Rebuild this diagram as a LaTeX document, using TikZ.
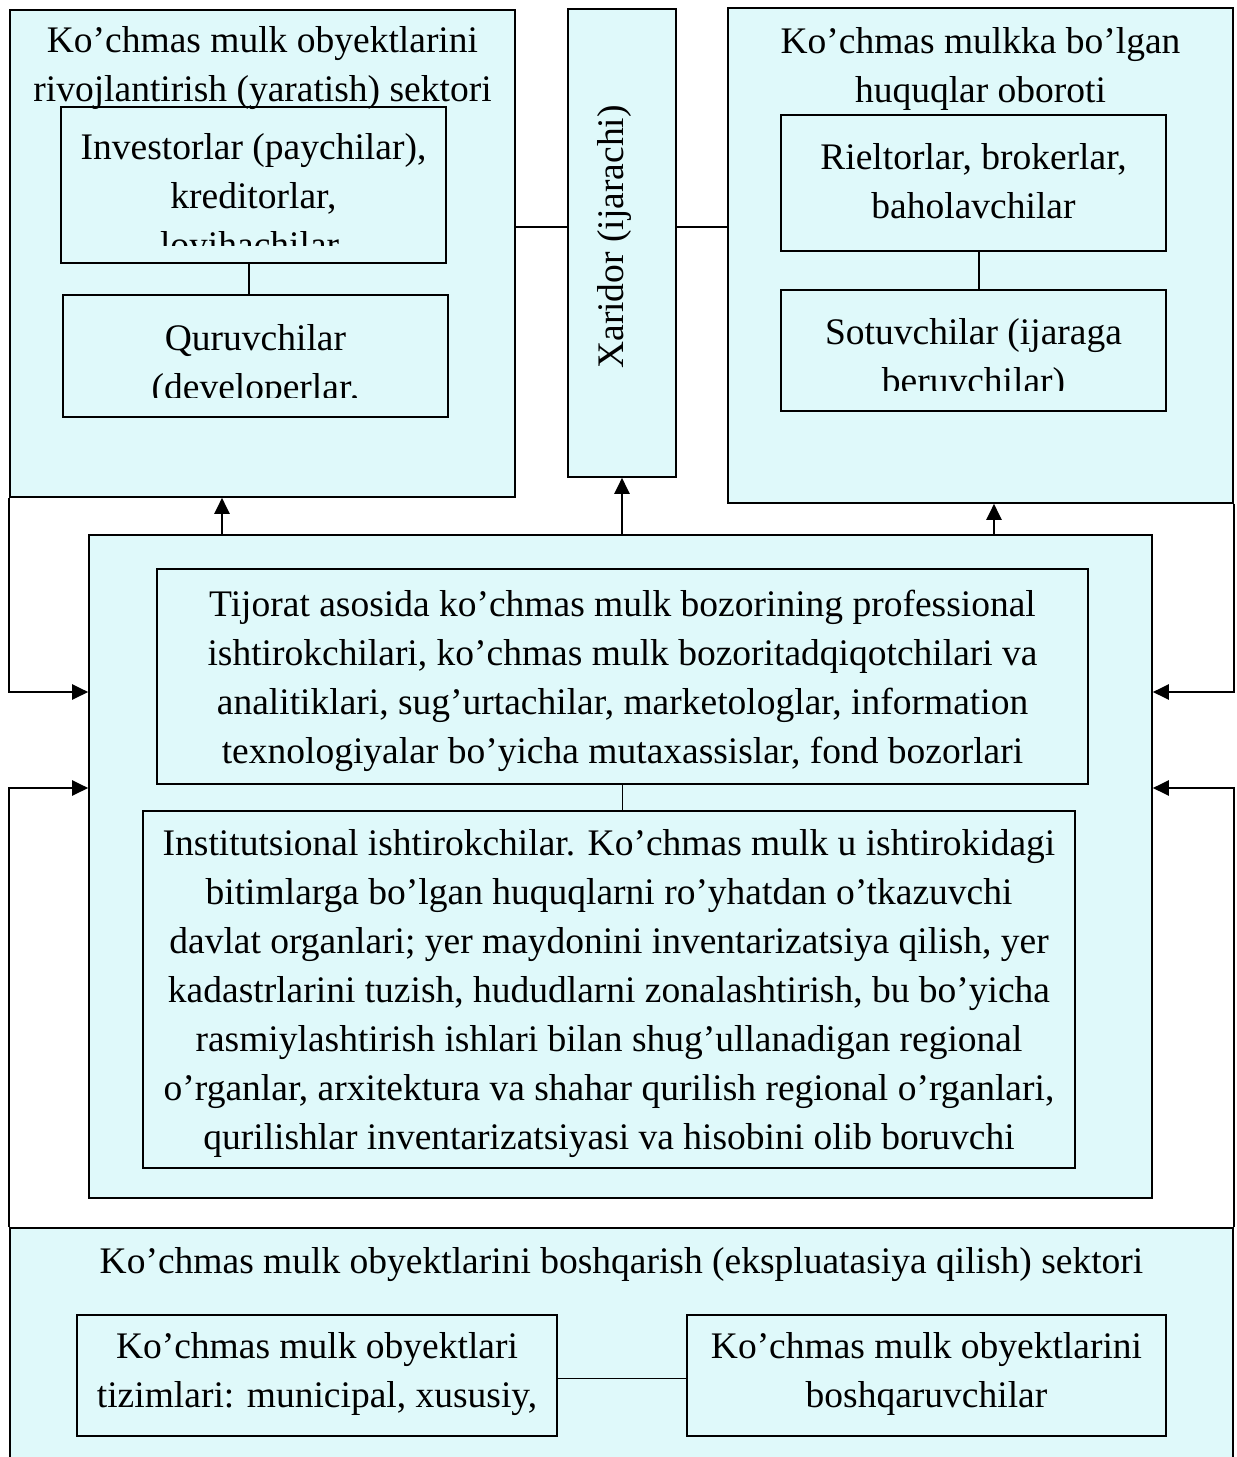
\documentclass[tikz,border=0pt]{standalone}
\usepackage{fontspec}
\setmainfont{Liberation Serif}
\usetikzlibrary{arrows.meta}
\definecolor{boxfill}{RGB}{223,249,250}
\begin{document}
\begin{tikzpicture}[x=1pt,y=-1pt,
  box/.style={draw=black,line width=1.6pt,fill=boxfill,rectangle,inner sep=0pt},
  txt/.style={inner sep=0pt,align=center,font=\fontsize{37.5}{49}\selectfont},
  link/.style={draw=black,line width=1.8pt},
  arr/.style={draw=black,line width=2.2pt,-{Triangle[length=16pt,width=15pt]}}]
\useasboundingbox (0,0) rectangle (1237,1457);
\fill[white] (0,0) rectangle (1237,1457);
% boxes
\node[box,minimum width=505pt,minimum height=487pt] (devsec) at (262.5,253.5) {};
\node[box,minimum width=385pt,minimum height=156pt] (inv) at (253.5,185) {};
\node[box,minimum width=385pt,minimum height=122pt] (qur) at (255.5,356) {};
\node[box,minimum width=108pt,minimum height=468pt] (xar) at (622,243) {};
\node[box,minimum width=505pt,minimum height=495pt] (rights) at (980.5,255.5) {};
\node[box,minimum width=385pt,minimum height=136pt] (riel) at (973.5,183) {};
\node[box,minimum width=385pt,minimum height=121pt] (sot) at (973.5,350.5) {};
\node[box,minimum width=1063pt,minimum height=663pt] (central) at (620.5,866.5) {};
\node[box,minimum width=931pt,minimum height=215pt] (tij) at (622.5,676.5) {};
\node[box,minimum width=932pt,minimum height=357pt] (inst) at (609,989.5) {};
\node[box,minimum width=1223pt,minimum height=250pt] (mgmt) at (621.5,1353) {};
\node[box,minimum width=480pt,minimum height=121pt] (sys) at (317,1375.5) {};
\node[box,minimum width=479pt,minimum height=121pt] (mgr) at (926.5,1375.5) {};
% texts
\node[txt] (devsect) at (262.5,68) {Ko’chmas mulk obyektlarini\\rivojlantirish (yaratish) sektori};
\begin{scope}
\clip (inv.north west) rectangle (inv.east |- 0,245);
\node[txt] (invt) at (253.5,200) {Investorlar (paychilar),\\kreditorlar,\\loyihachilar,};
\end{scope}
\begin{scope}
\clip (qur.north west) rectangle (qur.east |- 0,397);
\node[txt] (qurt) at (255.5,366) {Quruvchilar\\(developerlar,};
\end{scope}
\node[txt,rotate=90] (xart) at (614,237) {Xaridor (ijarachi)};
\node[txt] (rightst) at (980.5,69) {Ko’chmas mulkka bo’lgan\\huquqlar oboroti};
\node[txt] (rielt) at (973.5,181) {Rieltorlar, brokerlar,\\baholavchilar};
\begin{scope}
\clip (sot.north west) rectangle (sot.east |- 0,390);
\node[txt] (sott) at (973.5,360) {Sotuvchilar (ijaraga\\beruvchilar)};
\end{scope}
\node[txt] (tijt) at (622.5,681) {Tijorat asosida ko’chmas mulk bozorining professional\\ishtirokchilari, ko’chmas mulk bozoritadqiqotchilari va\\analitiklari, sug’urtachilar, marketologlar, information\\texnologiyalar bo’yicha mutaxassislar, fond bozorlari};
\node[txt] (instt) at (609,994) {Institutsional ishtirokchilar. Ko’chmas mulk u ishtirokidagi\\bitimlarga bo’lgan huquqlarni ro’yhatdan o’tkazuvchi\\davlat organlari; yer maydonini inventarizatsiya qilish, yer\\kadastrlarini tuzish, hududlarni zonalashtirish, bu bo’yicha\\rasmiylashtirish ishlari bilan shug’ullanadigan regional\\o’rganlar, arxitektura va shahar qurilish regional o’rganlari,\\qurilishlar inventarizatsiyasi va hisobini olib boruvchi};
\node[txt,anchor=base] (mgmtt) at (621.5,1273) {Ko’chmas mulk obyektlarini boshqarish (ekspluatasiya qilish) sektori};
\node[txt] (syst) at (317,1374) {Ko’chmas mulk obyektlari\\tizimlari: municipal, xususiy,};
\node[txt] (mgrt) at (926.5,1374) {Ko’chmas mulk obyektlarini\\boshqaruvchilar};
% plain connectors
\coordinate (hl) at (0,227);
\draw[link] (inv.south -| 249,0) -- (qur.north -| 249,0);
\draw[link] (devsec.east |- hl) -- (xar.west |- hl);
\draw[link] (xar.east |- hl) -- (rights.west |- hl);
\draw[link] ([xshift=5.5pt]riel.south) -- ([xshift=5.5pt]sot.north);
\draw[link] (tij.south) -- (tij.south |- inst.north);
\draw[link] ([yshift=-3pt]sys.east) -- ([yshift=-3pt]mgr.west);
% arrows up
\draw[arr] (central.north -| 222,0) -- (devsec.south -| 222,0);
\draw[arr] (central.north -| xar.south) -- (xar.south);
\draw[arr] (central.north -| 994,0) -- (rights.south -| 994,0);
% side feedback arrows
\draw[arr] (devsec.south west) |- (central.west |- 0,692);
\draw[arr] (mgmt.north west) |- (central.west |- 0,788);
\draw[arr] (rights.south east) |- (central.east |- 0,692);
\draw[arr] (mgmt.north east) |- (central.east |- 0,788);
\end{tikzpicture}
\end{document}
